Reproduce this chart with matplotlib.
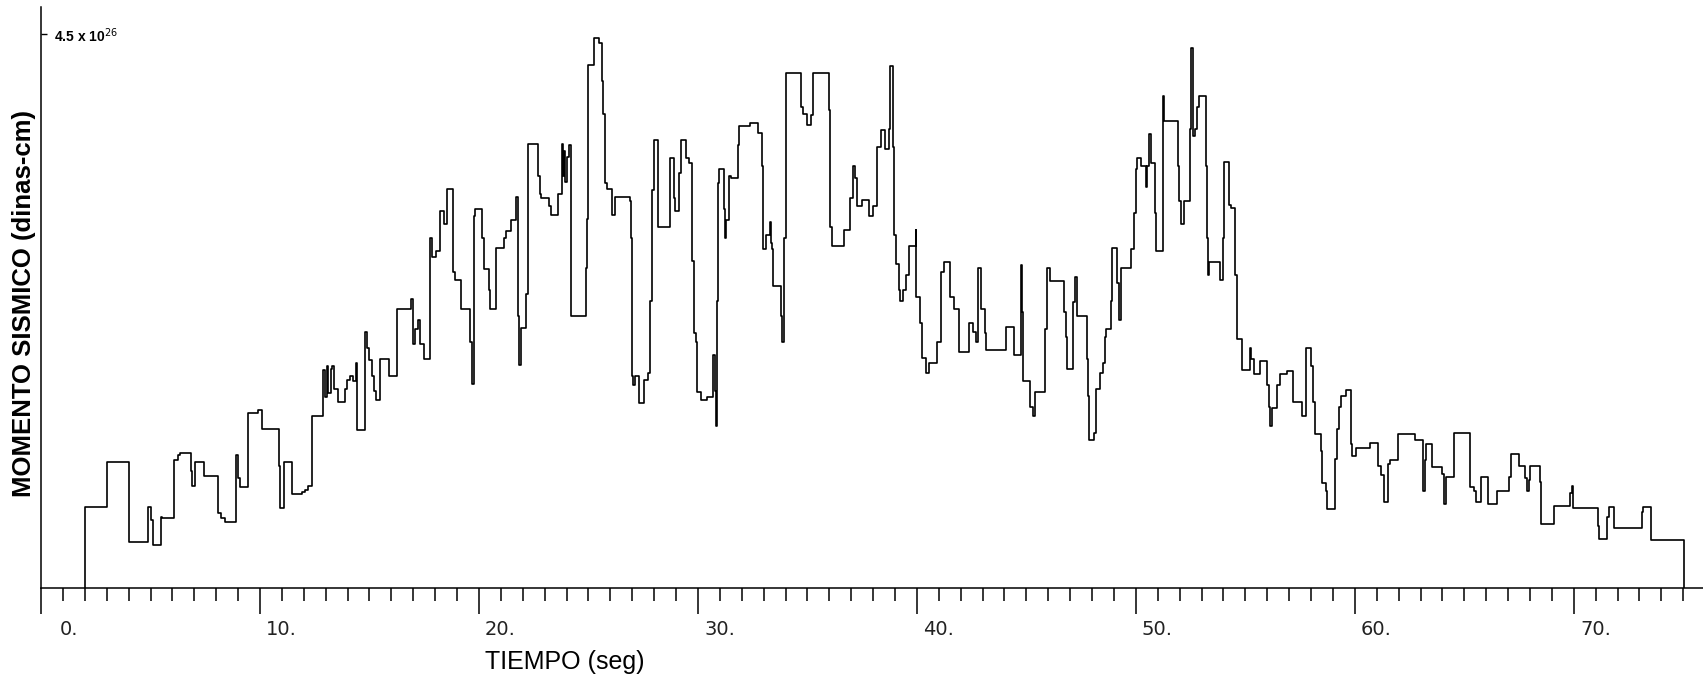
import matplotlib
matplotlib.use('Agg')
import matplotlib.pyplot as plt
from matplotlib.transforms import ScaledTranslation

# tiempo (seg) y momento sismico (x 1e26 dinas-cm), escalones
tiempo = [2.0, 2.0, 3.0, 4.03, 4.90, 5.02, 5.10, 5.48, 5.52, 6.07, 6.25, 6.35, 6.85, 6.90,
          7.03, 7.44, 8.10, 8.22, 8.40, 8.90, 9.01, 9.08, 9.47, 9.90, 10.07, 10.86, 10.92,
          11.10, 11.45, 11.90, 12.05, 12.20, 12.37, 12.89, 12.97, 13.05, 13.12, 13.22, 13.30,
          13.38, 13.55, 13.86, 13.95, 14.10, 14.25, 14.40, 14.44, 14.81, 14.90, 15.00, 15.10,
          15.20, 15.30, 15.47, 15.90, 16.24, 16.90, 16.97, 17.10, 17.20, 17.30, 17.47, 17.75,
          17.85, 18.05, 18.24, 18.40, 18.55, 18.80, 18.90, 19.17, 19.60, 19.70, 19.76, 19.82,
          20.14, 20.22, 20.45, 20.50, 20.80, 21.14, 21.22, 21.45, 21.71, 21.80, 21.85, 21.91,
          22.17, 22.22, 22.71, 22.77, 22.83, 23.22, 23.30, 23.60, 23.80, 23.85, 23.90, 23.95,
          24.00, 24.10, 24.19, 24.88, 24.92, 24.96, 25.26, 25.50, 25.60, 25.68, 25.75, 25.83,
          26.06, 26.19, 26.88, 26.93, 26.97, 26.99, 27.05, 27.11, 27.30, 27.53, 27.70, 27.80,
          27.91, 27.99, 28.16, 28.73, 28.89, 28.96, 29.15, 29.24, 29.46, 29.58, 29.73, 29.81,
          29.89, 29.96, 30.12, 30.40, 30.69, 30.76, 30.82, 30.86, 30.90, 30.96, 31.19, 31.24,
          31.30, 31.42, 31.50, 31.81, 31.89, 32.40, 32.73, 32.93, 32.96, 33.12, 33.27, 33.33,
          33.39, 33.42, 33.81, 33.86, 33.93, 34.01, 34.69, 34.81, 34.96, 35.16, 35.27, 35.99,
          36.04, 36.12, 36.69, 36.96, 37.09, 37.19, 37.27, 37.50, 37.83, 37.98, 38.17, 38.35,
          38.55, 38.71, 38.78, 38.89, 38.94, 39.06, 39.17, 39.25, 39.37, 39.48, 39.63, 39.94,
          39.98, 40.14, 40.25, 40.40, 40.55, 40.94, 41.09, 41.22, 41.52, 41.71, 41.94, 42.40,
          42.55, 42.71, 42.78, 42.94, 43.09, 43.17, 44.05, 44.45, 44.75, 44.82, 44.86, 45.17,
          45.28, 45.40, 45.83, 45.94, 46.09, 46.71, 46.82, 46.86, 47.14, 47.22, 47.30, 47.76,
          47.80, 47.87, 48.11, 48.19, 48.38, 48.48, 48.58, 48.65, 48.88, 48.91, 49.14, 49.22,
          49.30, 49.80, 49.91, 49.99, 50.05, 50.22, 50.45, 50.53, 50.61, 50.68, 50.88, 50.92,
          51.22, 51.27, 51.91, 51.99, 52.07, 52.22, 52.48, 52.54, 52.61, 52.70, 52.79, 52.88,
          53.19, 53.25, 53.30, 53.34, 53.84, 53.96, 54.02, 54.27, 54.33, 54.53, 54.61, 54.84,
          55.22, 55.28, 55.38, 55.65, 55.99, 56.07, 56.14, 56.22, 56.43, 56.58, 56.89, 57.17,
          57.58, 57.78, 58.00, 58.09, 58.20, 58.46, 58.52, 58.66, 58.74, 59.09, 59.20, 59.27,
          59.35, 59.58, 59.81, 59.89, 60.04, 60.70, 61.07, 61.20, 61.35, 61.50, 61.60, 61.97,
          62.74, 63.12, 63.20, 63.27, 63.54, 63.97, 64.09, 64.15, 64.55, 65.27, 65.43, 65.54,
          65.76, 66.06, 66.48, 67.02, 67.14, 67.48, 67.76, 67.86, 67.94, 68.02, 68.45, 68.50,
          69.10, 69.83, 69.91, 69.97, 71.10, 71.14, 71.51, 71.60, 71.82, 73.10, 73.17, 73.53,
          75.05]
momento = [0.0, 0.66, 1.02, 0.37, 0.66, 0.55, 0.35, 0.58, 0.57, 1.04, 1.08, 1.10, 0.95, 0.83,
           1.02, 0.91, 0.61, 0.57, 0.54, 1.08, 0.89, 0.82, 1.42, 1.45, 1.29, 0.99, 0.65,
           1.02, 0.76, 0.78, 0.80, 0.83, 1.40, 1.77, 1.55, 1.80, 1.58, 1.78, 1.80,
           1.62, 1.51, 1.62, 1.69, 1.72, 1.68, 1.83, 1.28, 2.08, 1.95, 1.85, 1.72,
           1.60, 1.53, 1.86, 1.72, 2.27, 2.35, 1.98, 2.10, 2.18, 1.98, 1.86, 2.84,
           2.69, 2.74, 3.06, 2.96, 3.24, 2.57, 2.50, 2.27, 2.00, 1.66, 3.02, 3.08,
           2.84, 2.59, 2.42, 2.27, 2.76, 2.84, 2.90, 2.99, 3.18, 2.21, 1.81, 2.11,
           2.39, 3.61, 3.35, 3.20, 3.17, 3.10, 3.03, 3.20, 3.61, 3.35, 3.55, 3.30,
           3.50, 3.60, 2.21, 2.60, 3.00, 4.25, 4.47, 4.43, 4.12, 3.85, 3.29, 3.24,
           3.03, 3.18, 3.14, 2.84, 2.18, 1.72, 1.65, 1.72, 1.50, 1.69, 1.75, 2.33,
           3.23, 3.64, 2.93, 3.49, 3.17, 3.06, 3.37, 3.64, 3.49, 3.45, 2.66, 2.07,
           2.00, 1.59, 1.53, 1.55, 1.89, 1.60, 1.32, 2.33, 3.29, 3.40, 3.08, 2.84,
           2.99, 3.35, 3.33, 3.60, 3.75, 3.78, 3.70, 3.43, 2.75, 2.87, 2.97, 2.80,
           2.75, 2.45, 2.21, 2.00, 2.84, 4.18, 3.91, 3.85, 3.76, 3.84, 4.18, 3.88,
           2.93, 2.78, 2.91, 3.17, 3.43, 3.33, 3.10, 3.15, 3.02, 3.10, 3.58, 3.72,
           3.57, 3.73, 4.24, 3.58, 2.87, 2.63, 2.42, 2.33, 2.42, 2.54, 2.78, 2.91,
           2.36, 2.15, 1.87, 1.75, 1.83, 2.00, 2.57, 2.65, 2.36, 2.27, 1.92, 2.15,
           2.08, 2.00, 2.60, 2.27, 2.07, 1.93, 2.12, 1.89, 2.62, 2.24, 1.68, 1.47,
           1.40, 1.59, 2.10, 2.60, 2.49, 2.24, 2.04, 1.78, 2.32, 2.53, 2.21, 1.86,
           1.56, 1.20, 1.26, 1.62, 1.75, 1.83, 2.04, 2.10, 2.33, 2.76, 2.48, 2.18,
           2.60, 2.75, 3.05, 3.40, 3.49, 3.43, 3.26, 3.43, 3.69, 3.45, 3.05, 2.74,
           4.00, 3.79, 3.43, 3.14, 2.96, 3.14, 3.73, 4.39, 3.67, 3.73, 3.91, 4.00,
           3.43, 2.84, 2.54, 2.65, 2.50, 2.84, 3.46, 3.11, 3.09, 2.54, 2.02, 1.77,
           1.95, 1.86, 1.74, 1.84, 1.65, 1.47, 1.32, 1.46, 1.65, 1.74, 1.76, 1.51,
           1.40, 1.95, 1.80, 1.51, 1.25, 1.11, 0.85, 0.79, 0.64, 1.05, 1.29, 1.47,
           1.56, 1.61, 1.17, 1.07, 1.14, 1.18, 0.99, 0.92, 0.70, 1.01, 1.04, 1.25,
           1.20, 0.79, 1.04, 1.17, 0.98, 0.93, 0.68, 0.90, 1.26, 0.82, 0.79, 0.70,
           0.90, 0.68, 0.79, 0.90, 1.09, 0.99, 0.89, 0.79, 0.88, 0.99, 0.86, 0.52,
           0.67, 0.77, 0.83, 0.65, 0.50, 0.40, 0.58, 0.66, 0.49, 0.62, 0.66, 0.39,
           0.0]

xticks_major = [0, 10, 20, 30, 40, 50, 60, 70]
xtick_labels = ['0.', '10.', '20.', '30.', '40.', '50.', '60.', '70.']
xticks_minor = list(range(0, 76))
ytick = [4.5]
ytick_label = ['4.5 x 10$^{26}$']

fig = plt.figure(figsize=(17.03, 6.83), dpi=100)
ax = fig.add_axes([0.0241, 0.1391, 0.9759, 0.8507])

ax.plot(tiempo, momento, drawstyle='steps-post', color='black', lw=1.2)

ax.set_xlim(0, 75.9)
ax.set_ylim(0, 4.72)
ax.spines['top'].set_visible(False)
ax.spines['right'].set_visible(False)
ax.spines['left'].set_linewidth(1.1)
ax.spines['bottom'].set_linewidth(1.1)

# eje x
ax.set_xticks(xticks_major)
ax.set_xticklabels(xtick_labels, family='DejaVu Sans', fontsize=14, color='#222222')
ax.set_xticks(xticks_minor, minor=True)
ax.tick_params(axis='x', which='major', direction='out', length=19, width=1.1, pad=4)
ax.tick_params(axis='x', which='minor', direction='out', length=9, width=1.1)
offset = ScaledTranslation(0.37, 0, fig.dpi_scale_trans)
for t in ax.xaxis.get_major_ticks():
    t.label1.set_horizontalalignment('right')
    t.label1.set_transform(t.label1.get_transform() + offset)

# eje y
ax.set_yticks(ytick)
ax.set_yticklabels(ytick_label, family='Liberation Sans', fontsize=10, fontweight='bold')
ax.tick_params(axis='y', direction='in', length=4, width=1.0, pad=-9)
for lbl in ax.get_yticklabels():
    lbl.set_horizontalalignment('left')

ax.set_xlabel('TIEMPO (seg)', family='Liberation Sans', fontsize=18)
ax.xaxis.set_label_coords(0.315, -0.127)
ax.xaxis.label.set_verticalalignment('center')

ax.set_ylabel('MOMENTO SISMICO (dinas-cm)', family='Liberation Sans', fontsize=18.5,
              fontweight='bold')
ax.yaxis.set_label_coords(-0.0102, 0.489)
ax.yaxis.label.set_verticalalignment('center')

plt.savefig('out.png', dpi=100)
